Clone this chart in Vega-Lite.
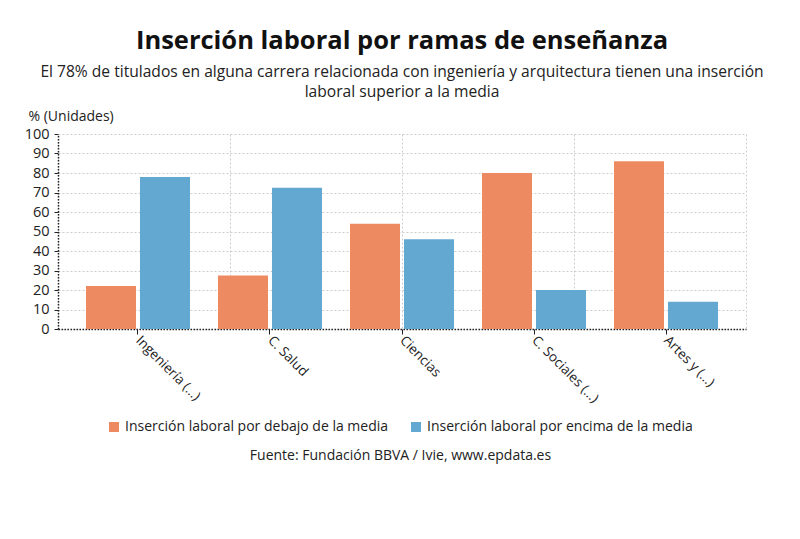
{
  "$schema": "https://vega.github.io/schema/vega-lite/v6.json",
  "width": 688,
  "height": 195,
  "autosize": {"type": "none"},
  "padding": {"left": 58, "top": 134, "right": 54, "bottom": 210},
  "background": "white",
  "title": {
    "text": "Inserción laboral por ramas de enseñanza",
    "subtitle": [
      "El 78% de titulados en alguna carrera relacionada con ingeniería y arquitectura tienen una inserción",
      "laboral superior a la media"
    ],
    "anchor": "middle",
    "frame": "group",
    "offset": 8,
    "font": "Open Sans",
    "fontSize": 25.5,
    "fontWeight": "bold",
    "color": "#111111",
    "subtitleFont": "Open Sans",
    "subtitleFontSize": 15.6,
    "subtitleColor": "#222222",
    "subtitlePadding": 11,
    "subtitleLineHeight": 20
  },
  "datasets": {
    "ramas": [
      {"rama": "Ingeniería (...)", "serie": "Inserción laboral por debajo de la media", "valor": 22},
      {"rama": "Ingeniería (...)", "serie": "Inserción laboral por encima de la media", "valor": 78},
      {"rama": "C. Salud", "serie": "Inserción laboral por debajo de la media", "valor": 27.5},
      {"rama": "C. Salud", "serie": "Inserción laboral por encima de la media", "valor": 72.5},
      {"rama": "Ciencias", "serie": "Inserción laboral por debajo de la media", "valor": 54},
      {"rama": "Ciencias", "serie": "Inserción laboral por encima de la media", "valor": 46},
      {"rama": "C. Sociales (...)", "serie": "Inserción laboral por debajo de la media", "valor": 80},
      {"rama": "C. Sociales (...)", "serie": "Inserción laboral por encima de la media", "valor": 20},
      {"rama": "Artes y (...)", "serie": "Inserción laboral por debajo de la media", "valor": 86},
      {"rama": "Artes y (...)", "serie": "Inserción laboral por encima de la media", "valor": 14}
    ],
    "rejilla": [{"q": 0}, {"q": 4}]
  },
  "layer": [
    {
      "data": {"name": "rejilla"},
      "mark": {"type": "point", "opacity": 0},
      "encoding": {
        "x": {
          "field": "q",
          "type": "quantitative",
          "scale": {"domain": [0, 4], "nice": false, "zero": false},
          "axis": {
            "orient": "top",
            "values": [0, 1, 2, 3, 4],
            "labels": false,
            "ticks": false,
            "domain": false,
            "title": null,
            "grid": true,
            "gridColor": "#cccccc",
            "gridDash": [2, 2],
            "gridWidth": 1
          }
        }
      }
    },
    {
      "data": {"name": "ramas"},
      "mark": {"type": "bar"},
      "encoding": {
        "x": {
          "field": "rama",
          "type": "nominal",
          "sort": null,
          "scale": {"paddingInner": 0.212, "paddingOuter": 0.212},
          "axis": {
            "labelAngle": 45,
            "labelAlign": "left",
            "labelBaseline": "middle",
            "labelFont": "Open Sans",
            "labelFontSize": 13.5,
            "labelColor": "#222222",
            "labelPadding": 4,
            "tickSize": 5,
            "tickColor": "#222222",
            "domainColor": "#222222",
            "domainDash": [1.5, 1.5],
            "domainWidth": 1.5,
            "grid": false,
            "title": "Fuente: Fundación BBVA / Ivie, www.epdata.es",
            "titleFont": "Open Sans",
            "titleFontSize": 14,
            "titleFontWeight": "normal",
            "titleColor": "#222222",
            "titleX": 342,
            "titleY": 126,
            "titleBaseline": "middle"
          }
        },
        "xOffset": {
          "field": "serie",
          "type": "nominal",
          "scale": {"paddingInner": 0.074}
        },
        "y": {
          "field": "valor",
          "type": "quantitative",
          "scale": {"domain": [0, 100], "nice": false},
          "axis": {
            "values": [0, 10, 20, 30, 40, 50, 60, 70, 80, 90, 100],
            "labelFont": "Open Sans",
            "labelFontSize": 14.5,
            "labelColor": "#222222",
            "labelPadding": 5,
            "tickSize": 4,
            "tickColor": "#222222",
            "domainColor": "#222222",
            "domainDash": [1.5, 1.5],
            "domainWidth": 1.5,
            "grid": true,
            "gridColor": "#cccccc",
            "gridDash": [2, 2],
            "gridWidth": 1,
            "title": "% (Unidades)",
            "titleAngle": 0,
            "titleAlign": "left",
            "titleBaseline": "middle",
            "titleX": -30,
            "titleY": -18,
            "titleFont": "Open Sans",
            "titleFontSize": 14,
            "titleFontWeight": "normal",
            "titleColor": "#222222"
          }
        },
        "color": {
          "field": "serie",
          "type": "nominal",
          "scale": {
            "domain": ["Inserción laboral por debajo de la media", "Inserción laboral por encima de la media"],
            "range": ["#ee8a62", "#63a8d0"]
          },
          "legend": {
            "title": null,
            "orient": "none",
            "direction": "horizontal",
            "legendX": 49,
            "legendY": 286,
            "symbolType": "square",
            "symbolSize": 100,
            "symbolStrokeWidth": 0,
            "labelFont": "Open Sans",
            "labelFontSize": 14,
            "labelColor": "#222222",
            "labelOffset": 4,
            "columnPadding": 20,
            "labelLimit": 400
          }
        }
      }
    }
  ],
  "resolve": {"scale": {"x": "independent"}},
  "config": {
    "view": {"stroke": null}
  }
}
